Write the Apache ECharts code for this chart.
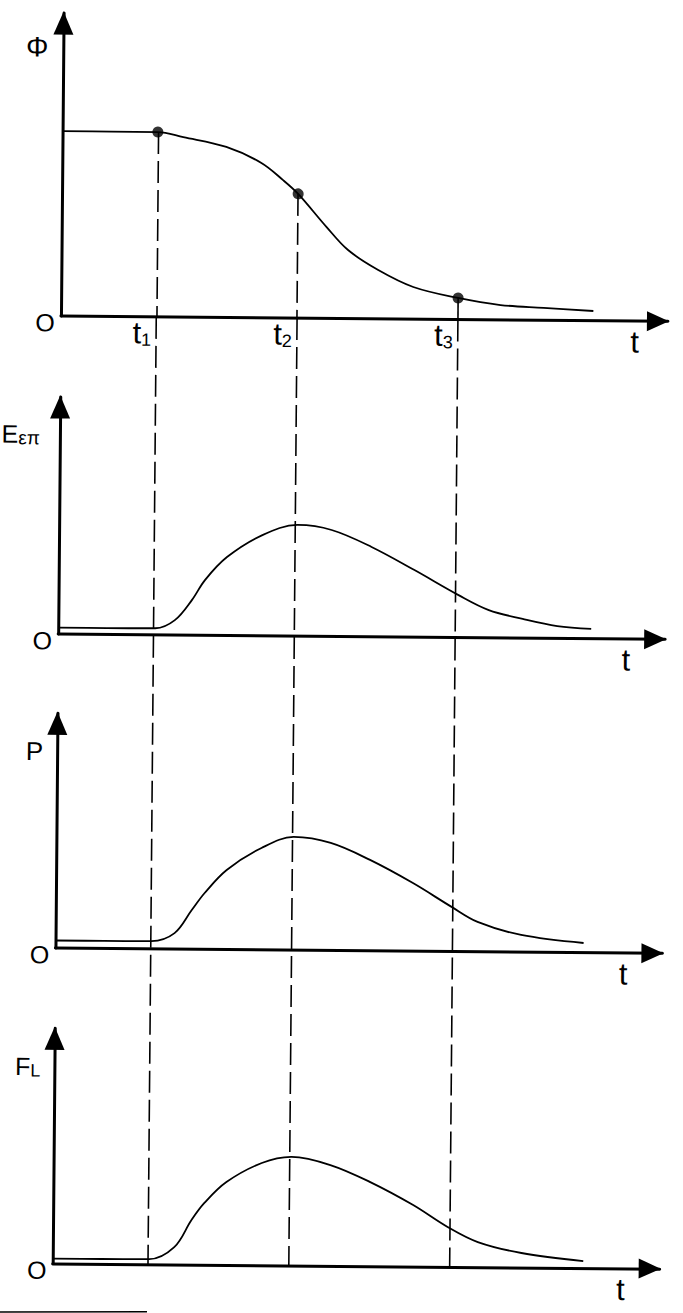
<!DOCTYPE html>
<html>
<head>
<meta charset="utf-8">
<script src="https://cdn.jsdelivr.net/npm/echarts@6/dist/echarts.min.js"></script>
<style>
html,body{margin:0;padding:0;background:#fff;overflow:hidden;width:683px;height:1313px;}
#c{position:absolute;left:-20px;top:-20px;width:723px;height:1353px;transform:rotate(0.5deg);transform-origin:50% 50%;background:#fff;}
</style>
</head>
<body>
<div id="c"></div>
<script>
// ---------------- data ----------------
const tMarks = [1.57, 3.89, 6.54];          // t1, t2, t3
const tMarkSubs = ['1', '2', '3'];
const yNames = ['Φ', '{m|E}{s|επ}', 'P', '{m|F}{l|L}'];
const xName = 't';
const originLabel = 'O';

// Φ(t)
const phiT = [0, 0.8, 1.57, 1.99, 2.70, 3.28, 3.64, 3.89, 4.36, 4.72, 5.22, 5.80, 6.54, 7.24, 7.95, 8.77];
const phiV = [6.10, 6.10, 6.10, 5.94, 5.63, 5.11, 4.55, 4.10, 3.02, 2.26, 1.61, 1.06, 0.71, 0.49, 0.41, 0.32];
const phiDotV = [6.10, 4.10, 0.71];

// Eεπ(t)
const emfT = [0, 0.8, 1.60, 1.92, 2.20, 2.41, 2.77, 3.35, 3.93, 4.49, 5.15, 5.86, 6.59, 7.09, 7.65, 8.22, 8.78];
const emfV = [0.27, 0.27, 0.28, 0.63, 1.49, 2.33, 3.31, 4.25, 4.69, 4.49, 3.79, 2.83, 1.79, 1.17, 0.81, 0.52, 0.41];

// P(t)
const powT = [0, 0.8, 1.58, 1.96, 2.24, 2.45, 2.81, 3.38, 3.91, 4.52, 5.17, 5.88, 6.52, 6.95, 7.67, 8.70];
const powV = [0.32, 0.32, 0.33, 0.68, 1.67, 2.40, 3.39, 4.34, 4.82, 4.58, 3.87, 2.90, 1.90, 1.27, 0.73, 0.41];

// F_L(t)
const forT = [0, 0.8, 1.59, 2.00, 2.28, 2.49, 2.85, 3.43, 3.92, 4.56, 5.22, 5.93, 6.50, 7.00, 7.72, 8.74];
const forV = [0.21, 0.21, 0.22, 0.74, 1.90, 2.63, 3.53, 4.35, 4.62, 4.29, 3.58, 2.62, 1.70, 1.07, 0.62, 0.30];

// ---------------- layout ----------------
const FONT = "'Liberation Sans', Arial, sans-serif";
const OFF = 20;                // the chart div is 20px larger on each side
const AX_LEFT = 58, AX_W = 607;
const panelTop = [15.5, 399.5, 715.8, 1030.8];
const panelH = [303, 237, 234.7, 235.2];
const yNameGap = [-34, -37, -38, -38];
const yNamePadR = [15, 20, 14, 14];
const xNameGap = [-33, -39, -39, -39];

const zip = (a, b) => a.map((v, i) => [v, b[i]]);
const curves = [zip(phiT, phiV), zip(emfT, emfV), zip(powT, powV), zip(forT, forV)];

const grids = [], xAxes = [], yAxes = [], series = [];
const dash = {type: [22, 7], width: 1.6, color: '#000'};

for (let i = 0; i < 4; i++) {
  grids.push({left: OFF + AX_LEFT, top: OFF + panelTop[i], width: AX_W, height: panelH[i], containLabel: false});
  xAxes.push({
    gridIndex: i, type: 'value', min: 0, max: 10,
    axisLine: {show: true, onZero: false, symbol: ['none', 'triangle'], symbolSize: [20, 22], symbolOffset: [0, -10],
      lineStyle: {color: '#000', width: 3}},
    axisTick: {show: false}, splitLine: {show: false},
    axisLabel: i === 0 ? {
      show: true, customValues: tMarks, margin: 0,
      formatter: (v) => '{t|t}{s|' + tMarkSubs[tMarks.indexOf(v)] + '}',
      align: 'right', verticalAlign: 'top', padding: [0, 5, 0, 0],
      rich: {
        t: {fontSize: 31, lineHeight: 32, fontFamily: FONT, color: '#000'},
        s: {fontSize: 18, lineHeight: 17, verticalAlign: 'bottom', fontFamily: FONT, color: '#000'}
      }
    } : {show: false},
    name: xName, nameLocation: 'end', nameGap: xNameGap[i],
    nameTextStyle: {fontSize: 31, lineHeight: 42, fontFamily: FONT, color: '#000', align: 'center', verticalAlign: 'top'}
  });
  yAxes.push({
    gridIndex: i, type: 'value', min: 0, max: 10,
    axisLine: {show: true, onZero: false, symbol: ['none', 'triangle'], symbolSize: [20, 23], symbolOffset: [0, -10],
      lineStyle: {color: '#000', width: 3}},
    axisTick: {show: false}, splitLine: {show: false},
    axisLabel: {show: true, customValues: [0], formatter: () => originLabel, margin: 6,
      fontSize: 25, lineHeight: 13, verticalAlign: 'top', fontFamily: FONT, color: '#000'},
    name: yNames[i], nameLocation: 'end', nameGap: yNameGap[i],
    nameTextStyle: {fontSize: i === 0 ? 28 : 26, fontFamily: FONT, color: '#000', align: 'right', verticalAlign: 'middle',
      padding: [0, yNamePadR[i], 0, 0],
      rich: {
        m: {fontSize: 25, lineHeight: 27, fontFamily: FONT, color: '#000'},
        s: {fontSize: 19, lineHeight: 23, verticalAlign: 'bottom', fontFamily: FONT, color: '#000'},
        l: {fontSize: 18, lineHeight: 9, verticalAlign: 'bottom', fontFamily: FONT, color: '#000'}
      }}
  });
  series.push({
    type: 'line', xAxisIndex: i, yAxisIndex: i, data: curves[i],
    smooth: 0.35, symbol: 'none', silent: true,
    lineStyle: {color: '#000', width: 1.8}
  });
}

// Φ dots and the dashed drops from them to the t axis
series.push({
  type: 'scatter', xAxisIndex: 0, yAxisIndex: 0, data: zip(tMarks, phiDotV),
  symbolSize: 11, itemStyle: {color: '#000'}, silent: true, z: 5,
  markLine: {
    silent: true, symbol: ['none', 'none'], label: {show: false}, lineStyle: dash,
    data: tMarks.map((t, k) => [{coord: [t, phiDotV[k]]}, {coord: [t, 0]}])
  }
});

// overlay grid spanning from panel 1 axis down to panel 4 axis for the long dashed lines
const ovTop = panelTop[0] + panelH[0];
const ovBottom = panelTop[3] + panelH[3];
grids.push({left: OFF + AX_LEFT, top: OFF + ovTop, width: AX_W, height: ovBottom - ovTop});
xAxes.push({gridIndex: 4, type: 'value', min: 0, max: 10, show: false});
yAxes.push({gridIndex: 4, type: 'value', min: 0, max: 1, show: false});
tMarks.forEach((t) => {
  series.push({
    type: 'line', xAxisIndex: 4, yAxisIndex: 4, data: [[t, 1], [t, 0]],
    symbol: 'none', silent: true, lineStyle: dash
  });
});

const chart = echarts.init(document.getElementById('c'), null, {renderer: 'svg'});
chart.setOption({
  animation: false,
  backgroundColor: '#fff',
  grid: grids, xAxis: xAxes, yAxis: yAxes, series: series,
  graphic: [{
    type: 'line', silent: true,
    shape: {x1: OFF - 10, y1: OFF + 1315, x2: OFF + 152.7, y2: OFF + 1313.4},
    style: {stroke: '#000', lineWidth: 1.5}
  }]
});
</script>
</body>
</html>
